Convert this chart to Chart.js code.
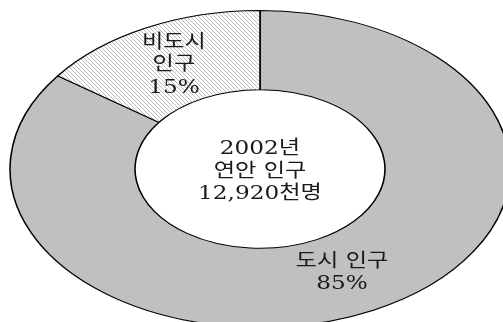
<!DOCTYPE html>
<html lang="ko">
<head>
<meta charset="utf-8">
<title>2002년 연안 인구</title>
<script src="https://cdn.jsdelivr.net/npm/chart.js@4/dist/chart.umd.min.js"></script>
<style>
  html, body { margin: 0; padding: 0; background: #fff; overflow: hidden; }
  #wrap { position: relative; width: 503px; height: 340px; }
</style>
</head>
<body>
<div id="wrap"><canvas id="coastChart"></canvas></div>
<script>
// 연안 인구 구성 (%)
const categories = ["도시 인구", "비도시 인구"];
const shares = [85, 15];
// 조각 위에 찍을 이름 (줄 단위)
const sliceLines = [["도시 인구"], ["비도시", "인구"]];
// 가운데 글씨
const centerLines = ["2002년", "연안 인구", "12,920천명"];

const STRETCH_X = 1.577;   // 도넛을 가로로 늘리는 비율
const TEXT_STRETCH = 1.22; // 글씨도 조금 넓게
const FONT = '19px "DejaVu Serif", "Noto Sans CJK KR", sans-serif';
const LINE_H = 22.5;
const labelNudge = [[-3, -2], [-1, 2]];

// 비도시 조각용 빗금 무늬
function makeHatch() {
  const c = document.createElement("canvas");
  c.width = 4; c.height = 4;
  const g = c.getContext("2d");
  g.fillStyle = "#ffffff";
  g.fillRect(0, 0, 4, 4);
  g.fillStyle = "#bababa";
  for (let i = 0; i < 4; i++) g.fillRect(i, i, 1, 1);
  const p = g.createPattern(c, "repeat");
  p.setTransform(new DOMMatrix().scale(1 / STRETCH_X, 1));
  return p;
}

const ellipsePlugin = {
  id: "ellipse",
  beforeDatasetsDraw(chart) {
    const arc = chart.getDatasetMeta(0).data[0];
    const ctx = chart.ctx;
    ctx.save();
    ctx.translate(arc.x, arc.y);
    ctx.scale(STRETCH_X, 1);
    ctx.translate(-arc.x, -arc.y);
  },
  afterDatasetsDraw(chart) {
    chart.ctx.restore();
  },
  afterDraw(chart) {
    const ctx = chart.ctx;
    const meta = chart.getDatasetMeta(0);
    const cx = meta.data[0].x;
    const cy = meta.data[0].y;
    ctx.save();
    ctx.font = FONT;
    ctx.fillStyle = "#1a1a1a";
    ctx.textAlign = "center";
    ctx.textBaseline = "middle";

    const drawBlock = (lines, x, y) => {
      const top = y - (lines.length - 1) * LINE_H / 2;
      lines.forEach((t, i) => {
        ctx.save();
        ctx.translate(x, top + i * LINE_H);
        ctx.scale(TEXT_STRETCH, 1);
        ctx.fillText(t, 0, 0);
        ctx.restore();
      });
    };

    meta.data.forEach((arc, i) => {
      const pos = arc.tooltipPosition();
      const x = cx + (pos.x - cx) * STRETCH_X;
      const lines = sliceLines[i].concat([shares[i] + "%"]);
      drawBlock(lines, x + labelNudge[i][0], pos.y + labelNudge[i][1]);
    });

    drawBlock(centerLines, cx, cy + 3);
    ctx.restore();
  }
};

new Chart(document.getElementById("coastChart"), {
  type: "doughnut",
  data: {
    labels: categories,
    datasets: [{
      data: shares,
      backgroundColor: ["#c0c0c0", makeHatch()],
      borderColor: "#000",
      borderWidth: 1
    }]
  },
  options: {
    responsive: true,
    maintainAspectRatio: false,
    animation: false,
    cutout: "50%",
    layout: { padding: { top: 10, bottom: 12, left: 17, right: 0 } },
    plugins: {
      legend: { display: false },
      tooltip: { enabled: false }
    }
  },
  plugins: [ellipsePlugin]
});
</script>
</body>
</html>
